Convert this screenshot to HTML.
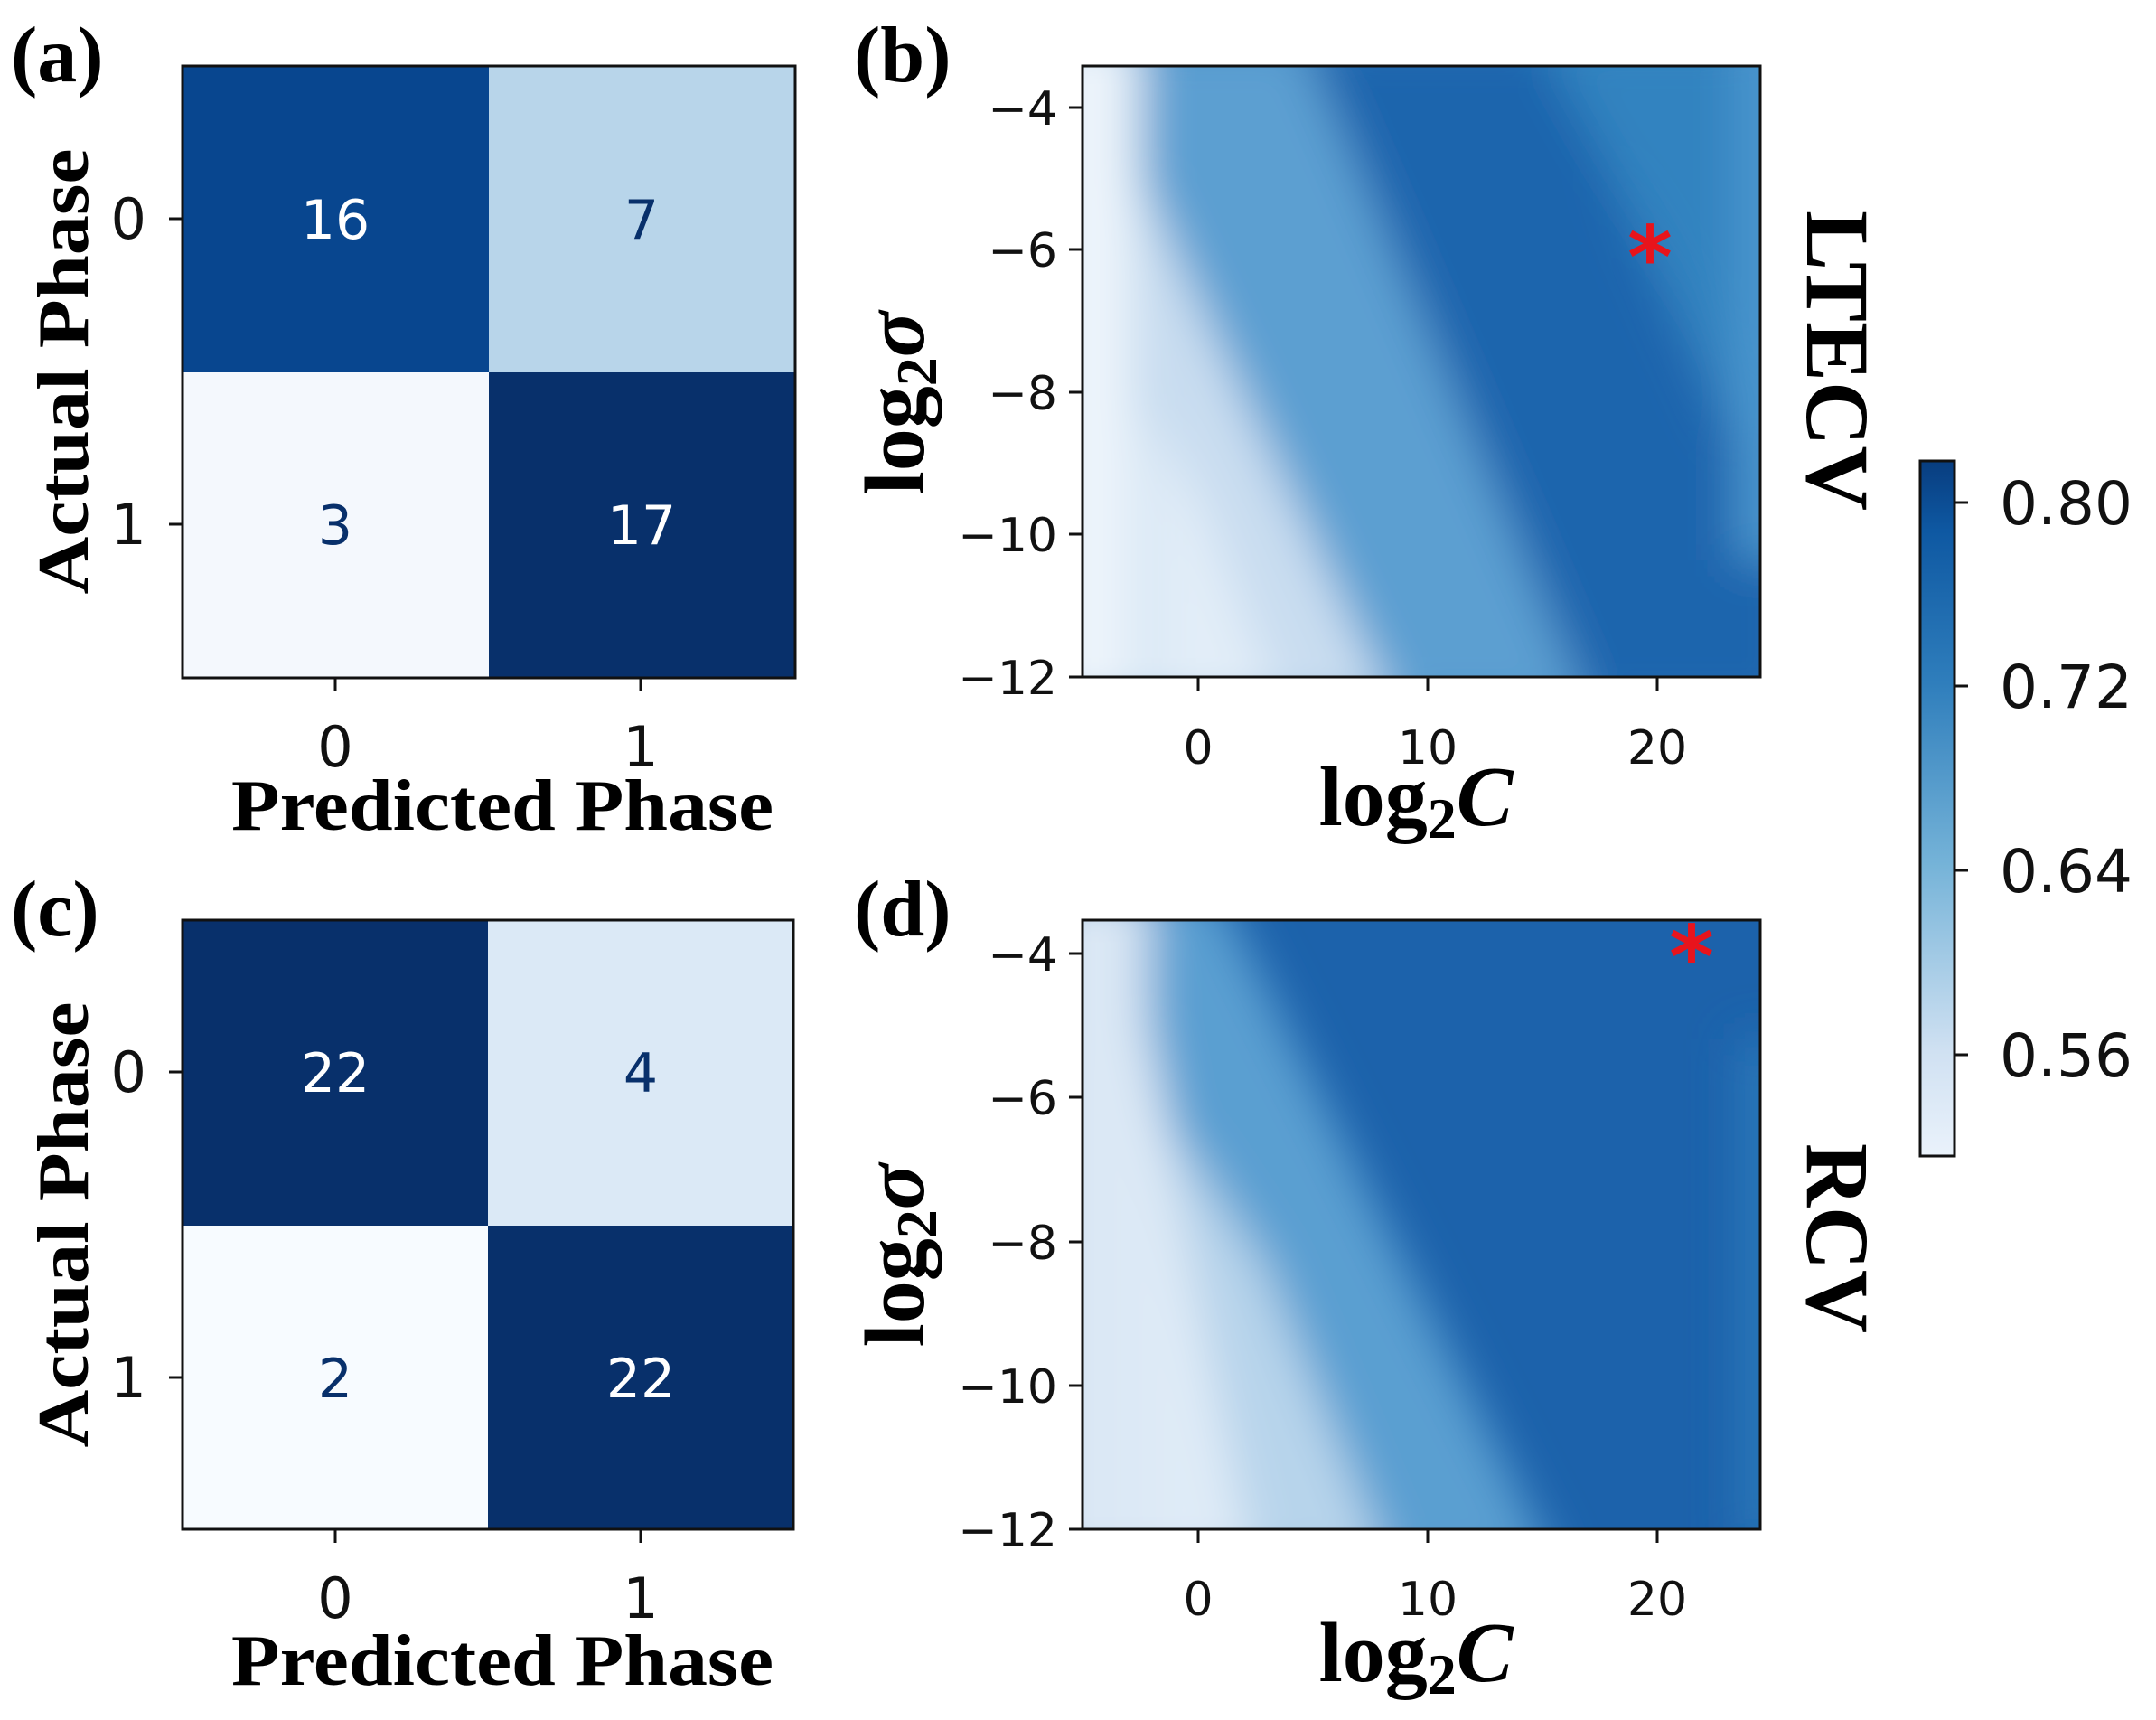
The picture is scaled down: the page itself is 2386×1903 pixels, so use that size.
<!DOCTYPE html>
<html><head><meta charset="utf-8"><style>
html,body{margin:0;padding:0;background:#fff;}
svg{display:block;}
.tk{font-family:"DejaVu Sans","Liberation Sans",sans-serif;font-size:52px;fill:#111;}
.tm{font-family:"DejaVu Sans","Liberation Sans",sans-serif;font-size:62px;fill:#111;}
.bs{font-family:"Liberation Serif",serif;font-weight:bold;fill:#000;}
.num{font-family:"DejaVu Sans","Liberation Sans",sans-serif;font-size:60px;text-anchor:middle;}
</style></head><body>
<svg width="2386" height="1903" viewBox="0 0 2386 1903" xmlns="http://www.w3.org/2000/svg">
<defs>
<filter id="bl" x="-20%" y="-20%" width="140%" height="140%"><feGaussianBlur stdDeviation="26"/></filter>
<clipPath id="cb"><rect x="1198" y="73" width="750" height="676"/></clipPath>
<clipPath id="cd"><rect x="1198" y="1018" width="750" height="674"/></clipPath>
<linearGradient id="cbar" x1="0" y1="1" x2="0" y2="0">
<stop offset="0" stop-color="#eaf2fb"/><stop offset="0.15" stop-color="#d0e1f2"/>
<stop offset="0.42" stop-color="#75b3d8"/><stop offset="0.68" stop-color="#2f7ebc"/>
<stop offset="0.9" stop-color="#0e58a2"/><stop offset="1" stop-color="#083d7f"/>
</linearGradient>
</defs>

<text class="bs" x="12" y="90" font-size="88">(a)</text>
<text class="bs" x="945" y="90" font-size="88">(b)</text>
<text class="bs" x="12" y="1035" font-size="88">(c)</text>
<text class="bs" x="945" y="1035" font-size="88">(d)</text>

<!-- Panel a -->
<rect x="202" y="73" width="339" height="339" fill="#08468f"/>
<rect x="541" y="73" width="339" height="339" fill="#b8d5ea"/>
<rect x="202" y="412" width="339" height="338" fill="#f4f8fd"/>
<rect x="541" y="412" width="339" height="338" fill="#08306b"/>
<rect x="202" y="73" width="678" height="677" fill="none" stroke="#111" stroke-width="3"/>
<text class="num" x="371" y="264" fill="#fff">16</text>
<text class="num" x="710" y="264" fill="#08306b">7</text>
<text class="num" x="371" y="602" fill="#08306b">3</text>
<text class="num" x="710" y="602" fill="#fff">17</text>
<g stroke="#111" stroke-width="3"><line x1="187" y1="242" x2="202" y2="242"/><line x1="187" y1="580" x2="202" y2="580"/><line x1="371" y1="750" x2="371" y2="765"/><line x1="709" y1="750" x2="709" y2="765"/></g>
<text class="tm" x="162" y="264" text-anchor="end">0</text>
<text class="tm" x="162" y="602" text-anchor="end">1</text>
<text class="tm" x="371" y="848" text-anchor="middle">0</text>
<text class="tm" x="709" y="848" text-anchor="middle">1</text>
<text class="bs" x="556" y="918" font-size="80" text-anchor="middle" textLength="600" lengthAdjust="spacingAndGlyphs">Predicted Phase</text>
<text class="bs" font-size="80" text-anchor="middle" transform="translate(97,411) rotate(-90)" textLength="493" lengthAdjust="spacingAndGlyphs">Actual Phase</text>

<!-- Panel c -->
<rect x="202" y="1018" width="338" height="338" fill="#08306b"/>
<rect x="540" y="1018" width="338" height="338" fill="#dbe9f6"/>
<rect x="202" y="1356" width="338" height="336" fill="#f7fbff"/>
<rect x="540" y="1356" width="338" height="336" fill="#08306b"/>
<rect x="202" y="1018" width="676" height="674" fill="none" stroke="#111" stroke-width="3"/>
<text class="num" x="371" y="1208" fill="#fff">22</text>
<text class="num" x="709" y="1208" fill="#08306b">4</text>
<text class="num" x="371" y="1546" fill="#08306b">2</text>
<text class="num" x="709" y="1546" fill="#fff">22</text>
<g stroke="#111" stroke-width="3"><line x1="187" y1="1186" x2="202" y2="1186"/><line x1="187" y1="1524" x2="202" y2="1524"/><line x1="371" y1="1692" x2="371" y2="1707"/><line x1="709" y1="1692" x2="709" y2="1707"/></g>
<text class="tm" x="162" y="1208" text-anchor="end">0</text>
<text class="tm" x="162" y="1546" text-anchor="end">1</text>
<text class="tm" x="371" y="1790" text-anchor="middle">0</text>
<text class="tm" x="709" y="1790" text-anchor="middle">1</text>
<text class="bs" x="556" y="1864" font-size="80" text-anchor="middle" textLength="600" lengthAdjust="spacingAndGlyphs">Predicted Phase</text>
<text class="bs" font-size="80" text-anchor="middle" transform="translate(97,1355) rotate(-90)" textLength="493" lengthAdjust="spacingAndGlyphs">Actual Phase</text>

<!-- Panel b heatmap -->
<g clip-path="url(#cb)">
<rect x="1150" y="30" width="850" height="760" fill="#3a86c2"/>
<g filter="url(#bl)">
<polygon points="1265,40 1440,40 1760,790 1265,790" fill="#5c9fd1"/>
<polygon points="1265,200 1345,373 1545,790 1265,790" fill="#c9ddf0"/>
<polygon points="1265,450 1330,560 1420,790 1265,790" fill="#e2edf8"/>
<polygon points="1440,40 1712,40 1990,640 1990,790 1760,790" fill="#1f65ad"/>
<polygon points="1700,40 1920,40 1990,560" fill="#3383c0"/>
<rect x="1150" y="30" width="112" height="760" fill="#edf4fb"/>
<rect x="1922" y="30" width="60" height="590" fill="#4b97cf"/>
</g>
</g>
<rect x="1198" y="73" width="750" height="676" fill="none" stroke="#111" stroke-width="3"/>
<text x="1826" y="318" font-family="DejaVu Sans,sans-serif" font-weight="bold" font-size="95" fill="#e8141c" text-anchor="middle">*</text>
<g stroke="#111" stroke-width="3">
<line x1="1183" y1="119" x2="1198" y2="119"/><line x1="1183" y1="276" x2="1198" y2="276"/><line x1="1183" y1="434" x2="1198" y2="434"/><line x1="1183" y1="591" x2="1198" y2="591"/><line x1="1183" y1="749" x2="1198" y2="749"/>
<line x1="1326" y1="749" x2="1326" y2="764"/><line x1="1580" y1="749" x2="1580" y2="764"/><line x1="1834" y1="749" x2="1834" y2="764"/>
</g>
<g class="tk" text-anchor="end">
<text x="1170" y="138">−4</text><text x="1170" y="295">−6</text><text x="1170" y="453">−8</text><text x="1170" y="610">−10</text><text x="1170" y="768">−12</text>
</g>
<g class="tk" text-anchor="middle"><text x="1326" y="845">0</text><text x="1580" y="845">10</text><text x="1834" y="845">20</text></g>
<text class="bs" x="1567" y="913" font-size="94" text-anchor="middle">log<tspan font-size="64" dy="14">2</tspan><tspan dy="-14" font-style="italic">C</tspan></text>
<text class="bs" font-size="94" text-anchor="middle" transform="translate(1022,446) rotate(-90)">log<tspan font-size="64" dy="14">2</tspan><tspan dy="-14" font-style="italic">σ</tspan></text>
<text class="bs" font-size="100" text-anchor="middle" transform="translate(2000,399) rotate(90)" textLength="332" lengthAdjust="spacingAndGlyphs">LTECV</text>

<!-- Panel d heatmap -->
<g clip-path="url(#cd)">
<rect x="1150" y="980" width="850" height="760" fill="#1c62ab"/>
<g filter="url(#bl)">
<polygon points="1270,980 1345,980 1725,1740 1270,1740" fill="#5a9fd1"/>
<polygon points="1270,1130 1389,1740 1270,1740" fill="#dfebf7"/>
<polygon points="1300,1250 1400,1400 1540,1740 1389,1740" fill="#b7d4eb"/>
<rect x="1150" y="980" width="120" height="760" fill="#dbe8f5"/>
<rect x="1925" y="1150" width="60" height="560" fill="#2b78ba"/>
</g>
</g>
<rect x="1198" y="1018" width="750" height="674" fill="none" stroke="#111" stroke-width="3"/>
<text x="1872" y="1092" font-family="DejaVu Sans,sans-serif" font-weight="bold" font-size="95" fill="#e8141c" text-anchor="middle">*</text>
<g stroke="#111" stroke-width="3">
<line x1="1183" y1="1055" x2="1198" y2="1055"/><line x1="1183" y1="1214" x2="1198" y2="1214"/><line x1="1183" y1="1374" x2="1198" y2="1374"/><line x1="1183" y1="1533" x2="1198" y2="1533"/><line x1="1183" y1="1692" x2="1198" y2="1692"/>
<line x1="1326" y1="1692" x2="1326" y2="1707"/><line x1="1580" y1="1692" x2="1580" y2="1707"/><line x1="1834" y1="1692" x2="1834" y2="1707"/>
</g>
<g class="tk" text-anchor="end">
<text x="1170" y="1074">−4</text><text x="1170" y="1233">−6</text><text x="1170" y="1393">−8</text><text x="1170" y="1552">−10</text><text x="1170" y="1711">−12</text>
</g>
<g class="tk" text-anchor="middle"><text x="1326" y="1787">0</text><text x="1580" y="1787">10</text><text x="1834" y="1787">20</text></g>
<text class="bs" x="1567" y="1860" font-size="94" text-anchor="middle">log<tspan font-size="64" dy="14">2</tspan><tspan dy="-14" font-style="italic">C</tspan></text>
<text class="bs" font-size="94" text-anchor="middle" transform="translate(1022,1389) rotate(-90)">log<tspan font-size="64" dy="14">2</tspan><tspan dy="-14" font-style="italic">σ</tspan></text>
<text class="bs" font-size="100" text-anchor="middle" transform="translate(2000,1370) rotate(90)" textLength="210" lengthAdjust="spacingAndGlyphs">RCV</text>

<!-- Colorbar -->
<rect x="2125" y="510" width="38" height="769" fill="url(#cbar)" stroke="#111" stroke-width="3"/>
<g stroke="#111" stroke-width="3"><line x1="2163" y1="556" x2="2178" y2="556"/><line x1="2163" y1="759" x2="2178" y2="759"/><line x1="2163" y1="963" x2="2178" y2="963"/><line x1="2163" y1="1167" x2="2178" y2="1167"/></g>
<g class="tk" style="font-size:66px"><text x="2213" y="580">0.80</text><text x="2213" y="783">0.72</text><text x="2213" y="987">0.64</text><text x="2213" y="1191">0.56</text></g>
</svg>
</body></html>
